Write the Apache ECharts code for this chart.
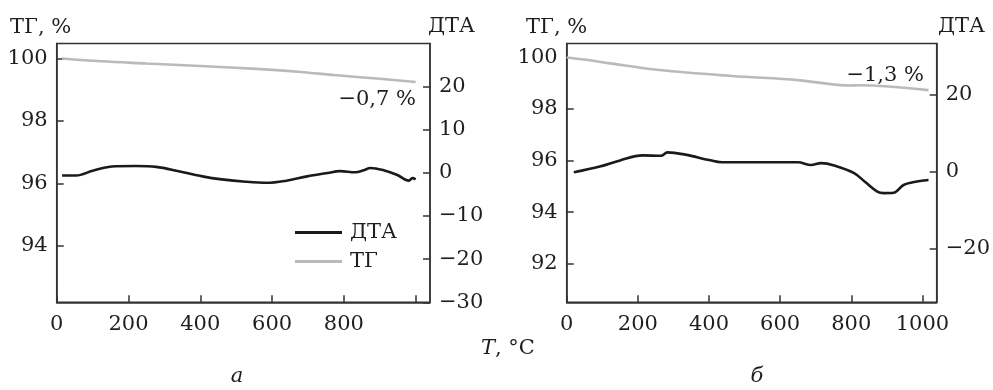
<!DOCTYPE html>
<html>
<head>
<meta charset="utf-8">
<script src="https://cdn.jsdelivr.net/npm/echarts@6/dist/echarts.min.js"></script>
<style>
html,body{margin:0;padding:0;background:#fff;}
#c{width:993px;height:390px;}
</style>
</head>
<body>
<div id="c"></div>
<script>
// ---- Data ----
// Panel a: DTA (right axis)
var aDtaT   = [15, 54, 100, 140, 165, 220, 277, 340, 406, 460, 527, 586, 640, 698, 750, 790, 832, 855, 874, 911, 949, 981, 991, 1000];
var aDtaV   = [-0.6, -0.6, 0.5, 1.3, 1.55, 1.6, 1.4, 0.4, -0.8, -1.5, -2.05, -2.3, -1.8, -0.8, -0.1, 0.4, 0.15, 0.6, 1.15, 0.6, -0.5, -1.8, -1.2, -1.5];
// Panel a: TG (left axis)
var aTgT    = [15, 123, 250, 400, 568, 680, 773, 900, 1000];
var aTgV    = [100.0, 99.91, 99.84, 99.76, 99.66, 99.57, 99.47, 99.35, 99.25];
// Panel b: DTA (right axis)
var bDtaT   = [20, 93, 150, 213, 266, 283, 334, 400, 436, 550, 650, 687, 715, 752, 808, 840, 873, 891, 919, 947, 984, 1017];
var bDtaV   = [-0.2, 1.3, 2.9, 4.2, 4.1, 5.0, 4.4, 3.0, 2.4, 2.4, 2.4, 1.7, 2.2, 1.6, -0.4, -2.8, -5.2, -5.6, -5.5, -3.5, -2.6, -2.2];
// Panel b: TG (left axis)
var bTgT    = [0, 60, 121, 260, 464, 650, 798, 822, 1017];
var bTgV    = [100.0, 99.9, 99.77, 99.51, 99.28, 99.12, 98.91, 98.92, 98.73];
// Tick labels
var xTicks      = [0, 200, 400, 600, 800, 1000];
var xLabelsA    = [0, 200, 400, 600, 800];
var xLabelsB    = [0, 200, 400, 600, 800, 1000];
var yLeftA      = [94, 96, 98, 100];
var yRightA     = [-30, -20, -10, 0, 10, 20];
var yLeftB      = [92, 94, 96, 98, 100];
var yRightB     = [-20, 0, 20];
var seriesNames = ['ДТА', 'ТГ'];
var notes       = ['−0,7 %', '−1,3 %'];

function pairs(t, v){ return t.map(function(x,i){ return [x, v[i]]; }); }

var FONT = 'DejaVu Serif';
var TXT = '#1e1e1e';
var AX = '#333';
var FS = 21;
function fmt(v){ return (v < 0 ? '−' + Math.abs(v) : String(v)); }

function xAxis(idx, labels){
  return {
    type:'value', gridIndex: idx, min:0, max:1040,
    axisLine:{show:true, onZero:false, lineStyle:{color:AX, width:1.5}},
    axisTick:{show:true, inside:true, length:7, customValues: xTicks, lineStyle:{color:AX, width:1.5}},
    axisLabel:{customValues: labels, formatter: fmt, color:TXT, fontFamily:FONT, fontSize:FS, margin:12},
    splitLine:{show:false}
  };
}
function yAxis(idx, pos, min, max, ticks){
  return {
    type:'value', gridIndex: idx, position: pos, min:min, max:max,
    axisLine:{show:true, onZero:false, lineStyle:{color:AX, width:1.5}},
    axisTick:{show:true, inside:true, length:7, customValues: ticks, lineStyle:{color:AX, width:1.5}},
    axisLabel:{customValues: ticks, formatter: fmt, color:TXT, fontFamily:FONT, fontSize:FS, margin:9},
    splitLine:{show:false}
  };
}
function lineSeries(name, xi, yi, data, color){
  return {
    name:name, type:'line', xAxisIndex:xi, yAxisIndex:yi, data:data,
    showSymbol:false, symbol:'none', smooth:0.35,
    lineStyle:{color:color, width:2.6}, itemStyle:{color:color},
    z: name === 'ДТА' ? 3 : 2
  };
}
function txt(x, y, s, align, italic){
  return {type:'text', x:x, y:y, style:{text:s, fontFamily:FONT, fontSize:FS, fill:TXT,
    fontStyle: italic ? 'italic' : 'normal',
    align:align, textAlign:align, verticalAlign:'middle', textVerticalAlign:'middle'}};
}

var chart = echarts.init(document.getElementById('c'));
chart.setOption({
  animation:false,
  backgroundColor:'#fff',
  grid:[
    {left:56.7, right:563, top:43.5, bottom:87.7, show:true, borderColor:AX, borderWidth:1.5, backgroundColor:'transparent'},
    {left:566.7, right:53, top:43.5, bottom:87.7, show:true, borderColor:AX, borderWidth:1.5, backgroundColor:'transparent'}
  ],
  xAxis:[ xAxis(0, xLabelsA), xAxis(1, xLabelsB) ],
  yAxis:[
    yAxis(0, 'left', 92.2, 100.48, yLeftA),
    yAxis(0, 'right', -30, 30, yRightA),
    yAxis(1, 'left', 90.5, 100.54, yLeftB),
    yAxis(1, 'right', -34, 33.3, yRightB)
  ],
  legend:{
    data: [{name:seriesNames[0], icon:'rect'}, {name:seriesNames[1], icon:'rect'}],
    orient:'vertical', left:295, top:221, padding:0,
    itemWidth:47, itemHeight:3, itemGap:6,
    textStyle:{fontFamily:FONT, fontSize:FS, color:TXT, lineHeight:23, padding:[0,0,0,3]}
  },
  series:[
    lineSeries(seriesNames[1], 0, 0, pairs(aTgT, aTgV), '#bababa'),
    lineSeries(seriesNames[0], 0, 1, pairs(aDtaT, aDtaV), '#1a1a1a'),
    lineSeries(seriesNames[1], 1, 2, pairs(bTgT, bTgV), '#bababa'),
    lineSeries(seriesNames[0], 1, 3, pairs(bDtaT, bDtaV), '#1a1a1a')
  ],
  graphic:[
    txt(10, 28, 'ТГ, %', 'left'),
    txt(428, 27, 'ДТА', 'left'),
    txt(526, 28, 'ТГ, %', 'left'),
    txt(938, 27, 'ДТА', 'left'),
    txt(416, 100, notes[0], 'right'),
    txt(924, 76, notes[1], 'right'),
    {type:'text', x:481, y:349, style:{text:'{i|T}, °C', fontFamily:FONT, fontSize:FS, fill:TXT,
        align:'left', textAlign:'left', verticalAlign:'middle', textVerticalAlign:'middle',
        rich:{i:{fontStyle:'italic', fontFamily:FONT, fontSize:FS, fill:TXT}}}},
    txt(237, 377, 'а', 'center', true),
    txt(757, 377, 'б', 'center', true)
  ]
});
</script>
</body>
</html>
